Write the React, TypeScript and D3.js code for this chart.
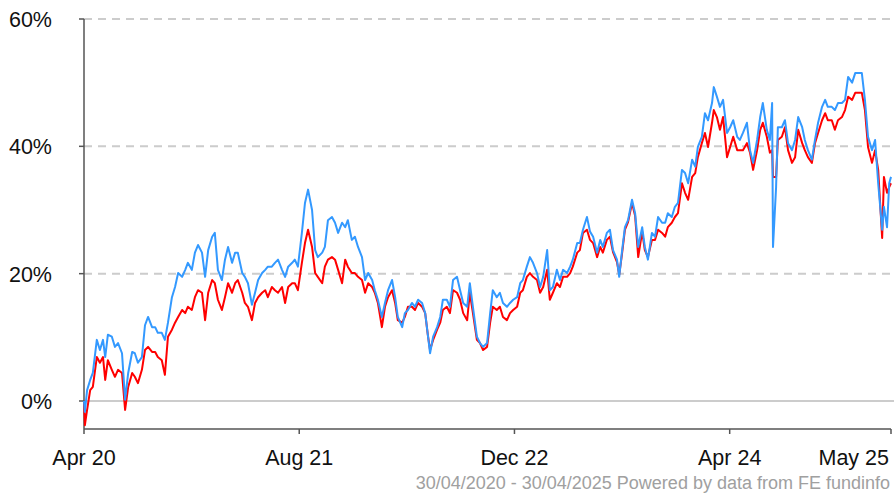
import React, { useEffect, useRef } from "react";
import * as d3 from "d3";

// days since 30/04/2020 for each sample
const days = [0,2,7,14,20,29,36,43,48,54,63,70,77,86,93,100,109,115,122,131,138,145,154,161,167,176,183,190,199,206,213,222,229,235,244,251,258,267,274,281,290,296,303,312,319,326,335,342,348,358,364,371,380,387,394,403,410,416,425,432,439,448,455,462,471,477,484,493,500,507,516,523,529,539,545,552,561,568,575,584,591,597,606,613,620,629,636,643,652,658,665,674,681,688,697,704,710,720,726,733,742,749,756,765,772,778,783,790,799,806,812,821,828,835,844,851,858,867,873,880,889,896,903,912,919,925,934,941,948,957,964,971,980,987,993,1002,1009,1016,1025,1032,1039,1048,1054,1061,1070,1077,1084,1093,1100,1106,1116,1122,1129,1138,1145,1152,1161,1168,1174,1183,1190,1197,1206,1211,1217,1224,1231,1240,1247,1254,1263,1269,1276,1285,1292,1299,1308,1315,1321,1330,1337,1344,1353,1360,1367,1376,1383,1389,1398,1405,1412,1421,1425,1432,1439,1446,1455,1462,1469,1478,1484,1491,1500,1507,1514,1523,1530,1536,1545,1552,1557,1559,1566,1570,1579,1586,1593,1602,1609,1616,1625,1631,1638,1647,1654,1661,1670,1677,1683,1692,1699,1706,1715,1722,1729,1738,1745,1751,1760,1767,1774,1783,1790,1797,1806,1810,1817,1822,1826];

// cumulative % return, blue series
const blueSeries = [0.0,-1.7,1.7,3.3,4.4,9.6,8.0,9.6,6.9,10.4,10.1,8.5,9.1,7.5,0.2,4.4,7.7,7.5,6.0,6.9,11.9,13.2,11.6,11.6,10.7,10.7,9.6,12.3,16.3,17.9,20.1,19.5,20.6,21.7,20.6,23.3,24.5,23.3,19.5,23.7,25.8,26.4,20.6,19.0,22.2,24.2,21.7,23.3,23.3,20.1,19.5,18.5,15.1,17.0,19.0,20.1,20.6,21.1,21.1,21.7,22.2,20.6,19.5,21.1,21.7,22.2,21.1,26.4,31.1,33.2,30.0,23.7,22.6,23.3,24.2,28.4,28.9,28.0,26.4,28.0,27.3,28.4,25.3,25.8,24.2,22.6,19.0,20.1,19.0,17.4,15.9,13.2,15.4,17.4,19.0,16.3,13.2,11.6,13.8,14.3,15.4,14.8,15.9,15.4,13.8,10.4,7.5,10.1,11.6,13.2,15.9,15.9,14.8,19.0,19.5,17.4,15.4,14.8,18.5,14.8,10.1,9.1,8.5,9.1,13.8,17.4,16.3,17.0,15.4,14.8,15.4,15.9,16.3,18.5,19.0,21.1,22.6,21.7,20.1,17.9,19.5,23.7,17.4,17.9,20.6,19.0,20.6,20.1,21.1,22.2,24.8,24.8,26.9,28.9,26.6,25.8,23.3,25.3,24.2,26.4,26.9,23.7,22.2,19.5,23.3,27.3,28.4,31.6,29.5,24.2,27.3,24.2,22.2,26.4,25.8,28.9,28.0,28.0,29.5,28.9,30.5,31.1,36.3,35.8,34.2,37.9,36.8,39.9,41.5,45.2,44.1,46.8,49.3,47.8,46.2,47.3,42.1,43.0,44.1,41.5,41.0,42.1,43.7,39.4,37.4,41.0,44.6,46.8,42.6,41.0,46.8,24.2,33.6,43.0,43.0,44.1,40.5,39.4,41.0,44.6,43.0,41.0,39.4,37.9,41.0,43.7,46.2,47.3,46.2,46.2,45.7,46.8,46.8,47.3,50.9,50.0,51.5,51.5,51.5,47.3,41.5,39.4,41.0,34.2,26.9,30.5,27.3,34.2,35.2];

// cumulative % return, red series
const redSeries = [0.0,-3.8,-1.4,1.7,2.2,6.9,6.0,6.9,3.3,6.4,4.9,3.8,4.9,4.4,-1.4,2.2,4.4,3.8,2.8,4.9,8.0,8.5,7.7,7.7,6.9,6.4,4.1,10.1,11.2,12.3,13.2,14.3,13.8,14.8,14.3,16.3,17.4,17.0,12.7,17.0,19.0,18.5,15.9,14.3,16.3,18.5,17.0,18.5,19.0,17.0,15.4,14.8,12.7,15.4,16.3,17.0,17.4,16.3,17.9,17.4,17.0,17.9,15.4,17.9,18.5,18.5,17.4,21.7,24.8,26.9,24.2,20.1,19.5,18.5,21.1,22.2,22.6,22.2,20.6,18.5,22.2,21.1,20.1,20.1,19.5,19.0,17.0,18.5,17.9,17.0,15.4,11.6,14.8,16.3,17.4,15.4,12.7,12.3,13.2,14.8,14.8,14.3,15.4,14.8,13.8,10.4,8.0,9.6,11.2,12.3,14.3,14.8,13.8,17.4,17.0,15.9,13.8,12.7,17.0,13.8,9.6,9.1,8.0,8.5,12.3,14.8,14.3,14.8,13.2,12.7,13.8,14.3,14.8,17.0,17.4,19.5,20.1,19.5,19.0,17.0,17.9,20.6,15.9,17.0,18.5,17.9,19.5,19.5,20.1,21.1,23.3,23.7,26.4,26.9,25.3,24.8,22.6,24.2,23.3,25.3,25.8,23.4,21.8,19.8,22.9,26.9,28.1,31.1,29.1,22.6,26.6,23.7,22.6,25.3,25.3,26.9,26.4,25.8,27.3,28.0,28.9,29.5,34.2,32.7,31.6,35.2,35.8,38.3,40.5,42.1,39.9,43.7,45.7,44.6,42.6,44.6,38.3,39.9,41.5,39.4,39.4,39.4,40.5,39.0,36.3,39.4,42.6,43.7,41.5,39.0,39.4,35.2,35.2,41.0,41.5,43.0,39.4,37.4,38.3,42.6,40.5,39.4,38.3,37.4,40.5,42.1,44.1,45.2,44.1,44.1,42.6,44.1,44.6,45.7,47.8,47.3,48.4,48.4,48.4,45.7,39.9,37.4,39.4,36.3,25.6,35.2,32.7,33.6,34.2];

const tickDates = ["2020-04-30", "2021-08-30", "2022-12-30", "2024-04-30", "2025-04-30"];
const tickLabels = ["Apr 20", "Aug 21", "Dec 22", "Apr 24", "May 25"];
const yTicks = [0, 20, 40, 60];
const footer = "30/04/2020 - 30/04/2025 Powered by data from FE fundinfo";

const App = () => {
  const svgRef = useRef<SVGSVGElement>(null);

  useEffect(() => {
    document.body.style.margin = "0";
    const width = 894;
    const height = 493;
    const left = 84, right = 891, top = 19, bottom = 429;
    const font = "'Liberation Sans', Arial, sans-serif";

    const svg = d3.select(svgRef.current);
    svg.selectAll("*").remove();
    svg.attr("width", width).attr("height", height);

    const parse = d3.timeParse("%Y-%m-%d");
    const start = parse("2020-04-30")!;
    const end = parse("2025-04-30")!;

    const x = d3.scaleTime().domain([start, end]).range([left, right]);
    const y = d3.scaleLinear().domain([-4.4, 60]).range([bottom, top]);

    // gridlines
    svg.append("g")
      .selectAll("line")
      .data(yTicks)
      .enter()
      .append("line")
      .attr("x1", left)
      .attr("x2", width)
      .attr("y1", d => y(d))
      .attr("y2", d => y(d))
      .attr("stroke", "#cccccc")
      .attr("stroke-width", 2)
      .attr("stroke-dasharray", d => (d === 0 ? null : "8,6"));

    // y axis
    const yAxis = svg.append("g");
    yAxis.append("line")
      .attr("x1", left).attr("x2", left)
      .attr("y1", top).attr("y2", bottom)
      .attr("stroke", "#555").attr("stroke-width", 1.5);
    yTicks.forEach(t => {
      yAxis.append("line")
        .attr("x1", left - 5).attr("x2", left)
        .attr("y1", y(t)).attr("y2", y(t))
        .attr("stroke", "#555").attr("stroke-width", 1.5);
      yAxis.append("text")
        .attr("x", 52)
        .attr("y", y(t) + 8)
        .attr("text-anchor", "end")
        .style("font-family", font)
        .style("font-size", "21.5px")
        .style("fill", "#111")
        .text(`${t}%`);
    });

    // x axis
    const xAxis = svg.append("g");
    xAxis.append("line")
      .attr("x1", left).attr("x2", right)
      .attr("y1", bottom).attr("y2", bottom)
      .attr("stroke", "#555").attr("stroke-width", 1.5);
    tickDates.forEach((d, i) => {
      const tx = x(parse(d)!);
      xAxis.append("line")
        .attr("x1", tx).attr("x2", tx)
        .attr("y1", bottom).attr("y2", bottom + 5)
        .attr("stroke", "#555").attr("stroke-width", 1.5);
      const last = i === tickDates.length - 1;
      xAxis.append("text")
        .attr("x", last ? tx - 2 : tx)
        .attr("y", 465)
        .attr("text-anchor", last ? "end" : "middle")
        .style("font-family", font)
        .style("font-size", "21.5px")
        .style("fill", "#111")
        .text(tickLabels[i]);
    });

    const n = Math.min(days.length, blueSeries.length, redSeries.length);
    const dates = days.slice(0, n).map(dd => d3.timeDay.offset(start, dd));

    const line = d3.line<number>()
      .x((_, i) => x(dates[i]))
      .y(v => y(v));

    svg.append("path")
      .attr("d", line(redSeries.slice(0, n)))
      .attr("fill", "none")
      .attr("stroke", "#ff0000")
      .attr("stroke-width", 2)
      .attr("stroke-linejoin", "round");

    svg.append("path")
      .attr("d", line(blueSeries.slice(0, n)))
      .attr("fill", "none")
      .attr("stroke", "#3399ff")
      .attr("stroke-width", 2)
      .attr("stroke-linejoin", "round");

    svg.append("text")
      .attr("x", 890)
      .attr("y", 489)
      .attr("text-anchor", "end")
      .style("font-family", font)
      .style("font-size", "18px")
      .style("fill", "#a0a0a0")
      .text(footer);
  }, []);

  return (
    <div style={{ width: 894, height: 493 }}>
      <svg ref={svgRef} style={{ display: "block" }}></svg>
    </div>
  );
};

export default App;
